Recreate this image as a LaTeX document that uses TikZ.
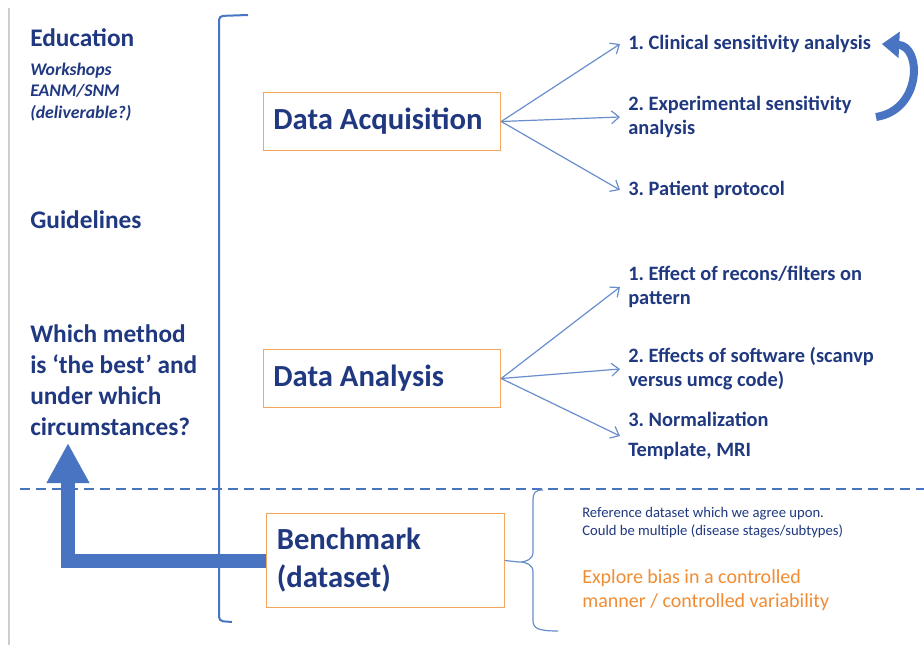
\documentclass[tikz,border=0pt]{standalone}
\usepackage{fontspec}
\setmainfont{Carlito}
\usepackage{xcolor}
\usetikzlibrary{positioning}
\usetikzlibrary{arrows.meta}
\tikzset{>={Straight Barb[length=2mm,width=3.4mm]}}
\frenchspacing

\definecolor{navy}{RGB}{31,56,128}
\definecolor{boxorange}{RGB}{247,165,92}
\definecolor{textorange}{RGB}{242,140,50}
\definecolor{linkblue}{RGB}{105,142,205}
\definecolor{barblue}{RGB}{72,116,194}
\definecolor{framegray}{RGB}{205,205,205}

\begin{document}
\begin{tikzpicture}[x=0.75pt, y=-0.75pt, stagebox/.style={draw=boxorange, thick, fill=white, text=navy, font=\bfseries\fontsize{23}{28.5}\selectfont, text width=163pt, align=flush left, inner xsep=7.5pt, minimum height=43pt}, heading/.style={anchor=west, inner sep=0pt, text=navy, align=left, font=\bfseries\fontsize{19}{23.25}\selectfont}, subitem/.style={anchor=west, inner sep=0pt, text=navy, align=left, font=\bfseries\itshape\fontsize{13.3}{16}\selectfont}, outcome/.style={anchor=west, inner xsep=6pt, inner ysep=0pt, text=navy, align=left, font=\bfseries\fontsize{15.3}{18}\selectfont}, link/.style={draw=linkblue, line width=0.9pt, ->}, bracket/.style={draw=barblue, line width=1.5pt, rounded corners=3pt}, brace/.style={draw=linkblue, line width=0.9pt}, bigarrow/.style={draw=barblue, line width=10.5pt, line join=miter, -{Triangle[length=30pt,width=30pt]}}]

    \useasboundingbox (0,0) rectangle (924,652);

    %Nodes
    \node[heading](edu) at (30,38){Education};
    \node[subitem](edu_items) at (30,92){Workshops\\EANM/SNM\\(deliverable?)};
    \node[heading](guide) at (30,220){Guidelines};
    \node[heading](question) at (30,380){Which method\\is `the best' and\\under which\\circumstances?};

    \node[stagebox](acq) at (382,121.5){Data Acquisition};
    \node[stagebox](ana) at (382,378.5){Data Analysis};
    \node[stagebox, minimum height=71pt](bench) at (385.5,560.5){Benchmark\\(dataset)};

    \node[outcome](acq1) at (620,44){1. Clinical sensitivity analysis};
    \node[outcome](acq2) at (620,117){2. Experimental sensitivity\\analysis};
    \node[outcome](acq3) at (620,190){3. Patient protocol};
    \node[outcome](ana1) at (620,287){1. Effect of recons/filters on\\pattern};
    \node[outcome](ana2) at (620,369){2. Effects of software (scanvp\\versus umcg code)};
    \node[outcome, font=\bfseries\fontsize{15.3}{22.5}\selectfont](ana3) at (620,436){3. Normalization\\Template, MRI};

    \node[anchor=west, inner sep=0pt, text=navy, align=left, font=\fontsize{11}{13.5}\selectfont](refdata) at (582,523){Reference dataset which we agree upon.\\Could be multiple (disease stages/subtypes)};
    \node[anchor=west, inner sep=0pt, text=textorange, align=left, font=\fontsize{15}{18}\selectfont](bias) at (582,590){Explore bias in a controlled\\manner / controlled variability};

    \coordinate (rise) at (68,443);
    \coordinate (tip) at (519,562);
    \coordinate (turn) at (876,117);

    %Lines
    \draw[framegray, line width=0.8pt] (9,8) -- (9,645);
    \draw[barblue, line width=1.5pt, dash pattern=on 7.5pt off 4.5pt] (20,489) -- (924,489);
    \draw[bigarrow] (bench.west) -| (rise);
    \draw[bracket] (248,15) -- (219,16) -- (219,621) -- (232,622);

    \draw[link] (acq.east) -- (acq1.west);
    \draw[link] (acq.east) -- (acq2.west);
    \draw[link] (acq.east) -- (acq3.west);
    \draw[link] (ana.east) -- (ana1.west);
    \draw[link] (ana.east) -- (ana2.west);
    \draw[link] (ana.east) -- (ana3.west);

    \draw[brace] (bench.east) -- (tip);
    \draw[brace] (543,490) .. controls (535,490) and (533,493) .. (533,500) -- (533,552) .. controls (533,559) and (527,562) .. (tip) .. controls (527,562) and (533,565) .. (533,572) -- (533,620) .. controls (533,628) and (537,631) .. (558,631);

    \draw[barblue, line width=6pt, -{Triangle[length=13pt,width=19pt]}] (turn) .. controls (922,110) and (922,46) .. ([xshift=2pt]acq1.east);

\end{tikzpicture}
\end{document}
